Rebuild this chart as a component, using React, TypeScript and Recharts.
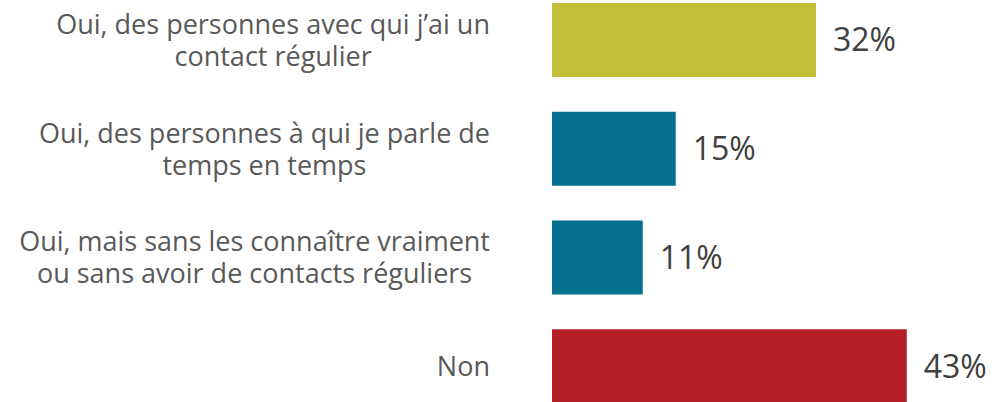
import React from "react";
import { BarChart, Bar, XAxis, YAxis, Cell, LabelList } from "recharts";

const categories: string[][] = [
  ["Oui, des personnes avec qui j\u2019ai un", "contact régulier"],
  ["Oui, des personnes à qui je parle de", "temps en temps"],
  ["Oui, mais sans les connaître vraiment", "ou sans avoir de contacts réguliers"],
  ["Non"],
];
const values: number[] = [32, 15, 11, 43];
const colors: string[] = ["#C2BE38", "#04708F", "#04708F", "#B41F28"];

const data = categories.map((lines, i) => ({
  name: lines.join("\n"),
  value: values[i],
}));

const FONT_FAMILY = "'Open Sans', sans-serif";
const TICK_SIZE = 27;
const LINE_H = 32;

let ctx: CanvasRenderingContext2D | null = null;
function measure(text: string, size: number): number {
  if (!ctx) {
    const c = document.createElement("canvas");
    ctx = c.getContext("2d");
  }
  if (!ctx) return text.length * size * 0.55;
  ctx.font = `${size}px 'Open Sans'`;
  return ctx.measureText(text).width;
}

const CategoryTick = (props: any) => {
  const { x, y, payload } = props;
  const lines: string[] = String(payload.value).split("\n");
  const maxW = Math.max(...lines.map((l) => measure(l, TICK_SIZE)));
  const cx = x - maxW / 2;
  const startY = y - ((lines.length - 1) * LINE_H) / 2;
  return (
    <g>
      {lines.map((l, i) => (
        <text
          key={i}
          x={cx}
          y={startY + i * LINE_H}
          dy="0.35em"
          textAnchor="middle"
          fontFamily={FONT_FAMILY}
          fontSize={TICK_SIZE}
          fill="#595959"
        >
          {l}
        </text>
      ))}
    </g>
  );
};

export default function App() {
  return (
    <div
      style={{
        position: "absolute",
        left: 0,
        top: 0,
        width: 1006,
        height: 402,
        overflow: "hidden",
        background: "#fff",
      }}
    >
      <div style={{ position: "absolute", left: 0, top: -14 }}>
        <BarChart
          width={1006}
          height={435}
          data={data}
          layout="vertical"
          margin={{ top: 0, right: 41.5, bottom: 0, left: 0 }}
        >
          <XAxis type="number" domain={[0, 50]} hide />
          <YAxis
            type="category"
            dataKey="name"
            width={552}
            axisLine={false}
            tickLine={false}
            tickSize={0}
            tickMargin={62}
            tick={<CategoryTick />}
            interval={0}
          />
          <Bar dataKey="value" barSize={74} isAnimationActive={false}>
            {data.map((_, i) => (
              <Cell key={i} fill={colors[i]} />
            ))}
            <LabelList
              dataKey="value"
              position="right"
              offset={17}
              formatter={(v: any) => `${v}%`}
              style={{
                fontFamily: FONT_FAMILY,
                fontSize: 32,
                fill: "#404040",
              }}
            />
          </Bar>
        </BarChart>
      </div>
    </div>
  );
}
